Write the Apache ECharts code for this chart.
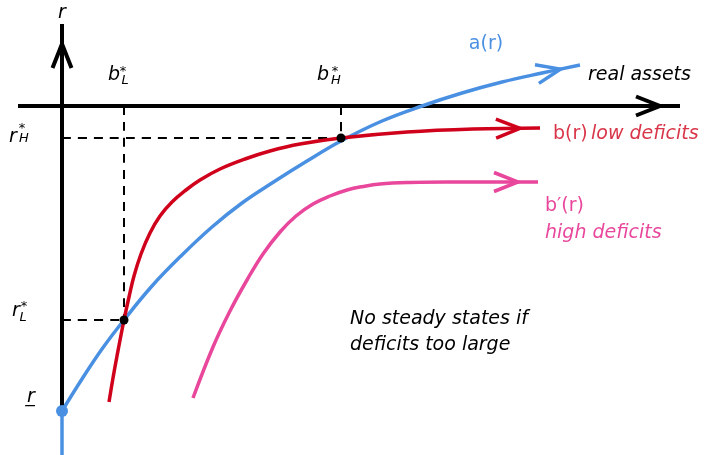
<!DOCTYPE html>
<html>
<head>
<meta charset="utf-8">
<script src="https://cdn.jsdelivr.net/npm/echarts@6/dist/echarts.min.js"></script>
<style>
  html, body { margin: 0; background: #fff; }
  #main { width: 728px; height: 455px; }
</style>
</head>
<body>
<div id="main"></div>
<script>
// steady state values (x: real assets, y: r)
var bL = 62, bH = 279;
var rL = -214, rH = -32, rMin = -305;
var xAxisEnds = [-44, 618];
var yAxisTop = 82;

// curves
var aCurve = [[0, -305], [20, -273], [40, -243], [62, -214], [90, -180], [120, -149], [150, -121],
  [180, -97], [210, -77], [245, -55], [279, -35], [320, -15], [360, 0], [400, 13], [440, 24],
  [480, 33], [518, 41]];
var bCurve = [[47, -296], [51, -272], [55, -250], [62, -214], [67, -191], [72, -170], [79, -148],
  [88, -127], [98, -110], [110, -96], [124, -84], [138, -74], [158, -63], [183, -53], [208, -45],
  [238, -38], [279, -32], [345, -26], [411, -23], [478, -22]];
var bHighCurve = [[131, -292], [151, -241], [168, -205], [185, -174], [201, -148], [218, -126],
  [234, -110], [251, -98], [268, -90], [285, -84], [301, -80.5], [318, -78], [348, -76.5],
  [385, -76], [476, -76]];
var aBelow = [[0, -349], [0, rMin]];

var BLUE = '#4a90e2', RED = '#d0021b', PINK = '#e8479c', BLACK = '#000';
var FONT = 'DejaVu Sans';

var myChart = echarts.init(document.getElementById('main'));

function line(data, color, width, dash) {
  return {
    type: 'line', data: data, symbol: 'none', smooth: 0.4,
    lineStyle: { color: color, width: width, type: dash || 'solid', cap: 'butt' },
    z: dash ? 1 : 3, silent: true
  };
}

// open arrowhead at the end of a line
function arrowHead(pts, color, width) {
  var tip = pts[pts.length - 1], from = pts[pts.length - 2];
  return {
    type: 'custom', silent: true, z: 4,
    data: [[tip[0], tip[1], from[0], from[1]]],
    renderItem: function (params, api) {
      var t = api.coord([api.value(0), api.value(1)]);
      var f = api.coord([api.value(2), api.value(3)]);
      var dx = t[0] - f[0], dy = t[1] - f[1];
      var len = Math.sqrt(dx * dx + dy * dy);
      var ux = dx / len, uy = dy / len, nx = -uy, ny = ux;
      var back = 44, mid = 20, w = 9.5;
      var m = [t[0] - ux * mid, t[1] - uy * mid];
      var b = [t[0] - ux * back, t[1] - uy * back];
      return {
        type: 'polyline',
        shape: { points: [[b[0] + nx * w, b[1] + ny * w], m, [b[0] - nx * w, b[1] - ny * w]] },
        style: { stroke: color, lineWidth: width, fill: null, lineJoin: 'miter' }
      };
    }
  };
}

function txt(at, str, off, size, color, italic, align) {
  return {
    value: at,
    label: {
      show: true, position: 'inside', formatter: str, offset: off,
      fontFamily: FONT, fontSize: size, color: color, opacity: 1,
      textBorderWidth: 0, textShadowBlur: 0,
      fontStyle: italic ? 'italic' : 'normal',
      align: align || 'center', verticalAlign: 'middle'
    }
  };
}

var aTip = aCurve[aCurve.length - 1];
var bTip = bCurve[bCurve.length - 1];
var pTip = bHighCurve[bHighCurve.length - 1];

var labels = [
  txt([0, yAxisTop], 'r', [0, -11], 19, BLACK, true),
  txt([bL, 0], 'b', [-10, -31], 19, BLACK, true),
  txt([bL, 0], '*', [-1, -34], 13, BLACK, false),
  txt([bL, 0], 'L', [1, -25], 13, BLACK, true),
  txt([bH, 0], 'b', [-18, -31], 19, BLACK, true),
  txt([bH, 0], '*', [-6, -34], 13, BLACK, false),
  txt([bH, 0], 'H', [-5, -25], 13, BLACK, true),
  txt([0, rH], 'r', [-49, -1], 19, BLACK, true),
  txt([0, rH], '*', [-40, -9], 13, BLACK, false),
  txt([0, rH], 'H', [-38, 1], 13, BLACK, true),
  txt([0, rL], 'r', [-46, -9], 19, BLACK, true),
  txt([0, rL], '*', [-38, -13], 13, BLACK, false),
  txt([0, rL], 'L', [-39, -2], 13, BLACK, true),
  txt([0, rMin], 'r\u0332', [-31, -14], 19, BLACK, true),
  txt(aTip, 'a(r)', [-94, -21], 19, BLUE, false),
  txt([xAxisEnds[1], 0], 'real assets', [-92, -31], 19, BLACK, true, 'left'),
  {
    value: bTip,
    label: {
      show: true, position: 'inside', align: 'left', verticalAlign: 'middle', offset: [13, 6],
      textBorderWidth: 0,
      formatter: '{n|b(r)} {i|low deficits}',
      rich: {
        n: { fontFamily: FONT, fontSize: 19, color: RED, fontStyle: 'normal' },
        i: { fontFamily: FONT, fontSize: 19, color: RED, fontStyle: 'italic' }
      }
    }
  },
  txt(pTip, 'b\u2032(r)', [7, 24], 19, PINK, false, 'left'),
  txt(pTip, 'high deficits', [7, 51], 19, PINK, true, 'left'),
  txt([288, -213], 'No steady states if', [0, 0], 19, BLACK, true, 'left'),
  txt([288, -239], 'deficits too large', [0, 0], 19, BLACK, true, 'left')
];

var option = {
  animation: false,
  grid: { left: 0, right: 0, top: 0, bottom: 0 },
  xAxis: { type: 'value', min: -62, max: 666, show: false },
  yAxis: { type: 'value', min: -349, max: 106, show: false },
  series: [
    // dashed guides
    line([[bL, 0], [bL, rL]], BLACK, 2, [9, 7]),
    line([[0, rL], [bL, rL]], BLACK, 2, [9, 7]),
    line([[bH, 0], [bH, rH]], BLACK, 2, [9, 7]),
    line([[0, rH], [bH, rH]], BLACK, 2, [9, 7]),
    // axes
    line([[xAxisEnds[0], 0], [xAxisEnds[1], 0]], BLACK, 4),
    arrowHead([[xAxisEnds[0], 0], [xAxisEnds[1], 0]], BLACK, 4),
    line([[0, rMin], [0, yAxisTop]], BLACK, 4),
    arrowHead([[0, rMin], [0, yAxisTop]], BLACK, 4),
    // curves
    line(aBelow, BLUE, 3.5),
    line(aCurve, BLUE, 3.5),
    arrowHead(aCurve, BLUE, 3.5),
    line(bCurve, RED, 3.5),
    arrowHead(bCurve, RED, 3.5),
    line(bHighCurve, PINK, 3.5),
    arrowHead(bHighCurve, PINK, 3.5),
    {
      type: 'scatter', silent: true, z: 6, symbolSize: 9,
      itemStyle: { color: BLACK, opacity: 1 },
      data: [[bL, rL], [bH, rH]]
    },
    {
      type: 'scatter', silent: true, z: 6, symbolSize: 12,
      itemStyle: { color: BLUE, opacity: 1 },
      data: [[0, rMin]]
    },
    {
      type: 'scatter', silent: true, z: 7, symbolSize: 1,
      itemStyle: { color: 'transparent' },
      data: labels
    }
  ]
};
myChart.setOption(option);
</script>
</body>
</html>
